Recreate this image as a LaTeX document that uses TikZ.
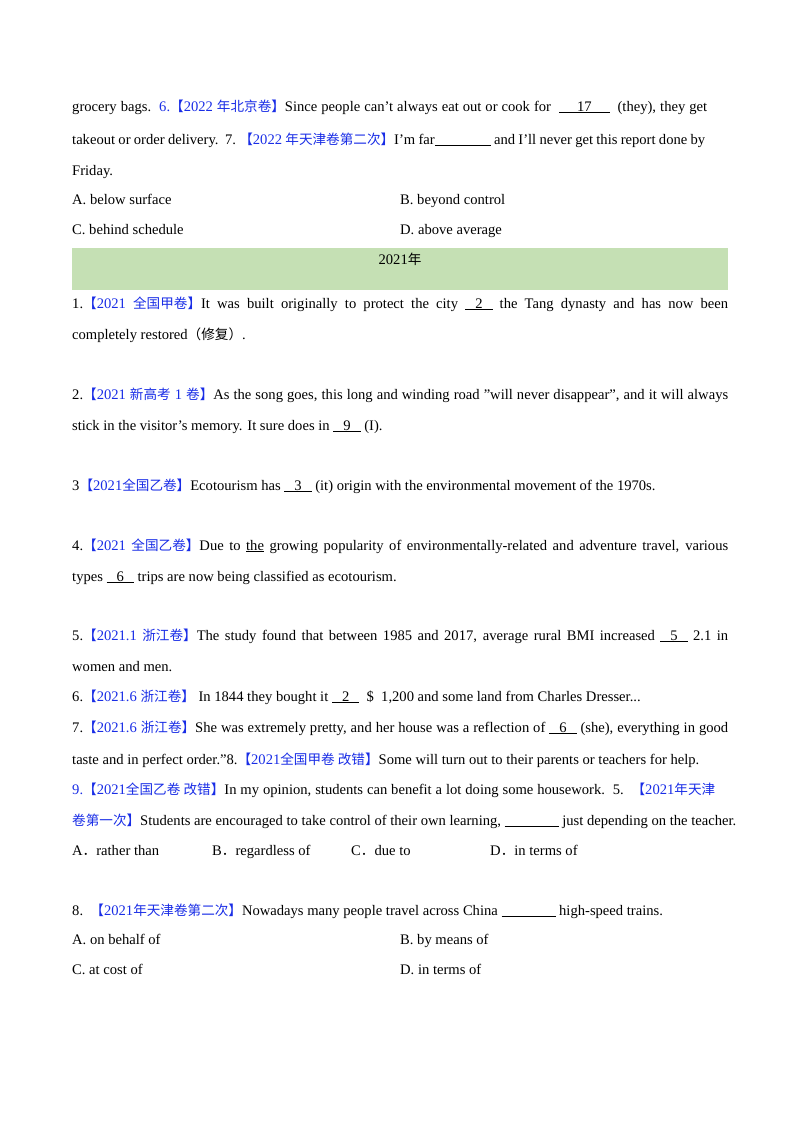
\documentclass[tikz,border=0pt]{standalone}
\usepackage{fontspec}
\setmainfont{Liberation Serif}
\newfontfamily\cjk{Noto Sans CJK SC}
\definecolor{blu}{RGB}{25,45,230}
\definecolor{band}{RGB}{197,224,180}
\newcommand\zh[1]{{\cjk\fontsize{13.6}{16}\selectfont #1}}
\newcommand\bl[1]{\textcolor{blu}{#1}}
\newcommand\blank[3]{\underline{\hspace{#1}#3\hspace{#2}}}
\newcommand\jus[1]{\makebox[656pt][s]{#1}}
\newcommand\q{\symbol{34}}
\begin{document}
\begin{tikzpicture}[x=1pt,y=-1pt,
  ln/.style={anchor=base west,inner sep=0pt,font=\fontsize{14.6}{17}\selectfont}]
\useasboundingbox (0,0) rectangle (800,1132);
\fill[band] (72,248) rectangle (728,290);
\node[ln] (y) at (400,264) [anchor=base] {2021\zh{年}};
\node[ln] (l1) at (72,111) {\makebox[635pt][s]{grocery bags.\ \ \bl{6.\zh{【}2022 \zh{年北京卷】}}Since people can’t always eat out or cook for \ \blank{18pt}{18pt}{17}\ \ (they), they get}};
\node[ln] (l2) at (72,144) {\makebox[633pt][s]{takeout or order delivery.\ \ 7.\ \bl{\zh{【}2022 \zh{年天津卷第二次】}}I’m far\blank{56pt}{0pt}{} and I’ll never get this report done by}};
\node[ln] (l3) at (72,175) {Friday.};
\node[ln] (a1) at (72,204) {A.\ below surface};
\node[ln] (b1) at (400,204) {B.\ beyond control};
\node[ln] (c1) at (72,234) {C.\ behind schedule};
\node[ln] (d1) at (400,234) {D.\ above average};
\node[ln] (q1) at (72,308) {\jus{1.\bl{\zh{【}2021 \zh{全国甲卷】}}It was built originally to protect the city \blank{10pt}{10pt}{2} the Tang dynasty and has now been}};
\node[ln] (q1b) at (72,339) {completely restored\zh{（修复）}.};
\node[ln] (q2) at (72,399) {\jus{2.\bl{\zh{【}2021 \zh{新高考} 1 \zh{卷】}}As the song goes, this long and winding road \q will never disappear\q, and it will always}};
\node[ln] (q2b) at (72,430) {stick in the visitor's memory. It sure does in \blank{10pt}{10pt}{9} (I).};
\node[ln] (q3) at (72,490) {3\bl{\zh{【}2021\zh{全国乙卷】}}Ecotourism has \blank{10pt}{10pt}{3} (it) origin with the environmental movement of the 1970s.};
\node[ln] (q4) at (72,550) {\jus{4.\bl{\zh{【}2021 \zh{全国乙卷】}}Due to \underline{the} growing popularity of environmentally-related and adventure travel, various}};
\node[ln] (q4b) at (72,581) {types \blank{10pt}{10pt}{6} trips are now being classified as ecotourism.};
\node[ln] (q5) at (72,640) {\jus{5.\bl{\zh{【}2021.1\ \zh{浙江卷】}}The study found that between 1985 and 2017, average rural BMI increased \blank{10pt}{10pt}{5} 2.1 in}};
\node[ln] (q5b) at (72,671) {women and men.};
\node[ln] (q6) at (72,701) {6.\bl{\zh{【}2021.6\ \zh{浙江卷】}}\ In 1844 they bought it \blank{10pt}{10pt}{2}\ \ \$\ \ 1,200 and some land from Charles Dresser...};
\node[ln] (q7) at (72,732) {\jus{7.\bl{\zh{【}2021.6\ \zh{浙江卷】}}She was extremely pretty, and her house was a reflection of \blank{10pt}{10pt}{6} (she), everything in good}};
\node[ln] (q7b) at (72,764) {taste and in perfect order.\q8.\bl{\zh{【}2021\zh{全国甲卷\ 改错】}}Some will turn out to their parents or teachers for help.};
\node[ln] (q9) at (72,794) {\makebox[643pt][s]{\bl{9.\zh{【}2021\zh{全国乙卷\ 改错】}}In my opinion, students can benefit a lot doing some housework.\ \ 5.\ \ \bl{\zh{【}2021\zh{年天津}}}};
\node[ln] (q9b) at (72,825) {\bl{\zh{卷第一次】}}Students are encouraged to take control of their own learning, \blank{54pt}{0pt}{} just depending on the teacher.};
\node[ln] (a2) at (72,855) {A\zh{．}rather than};
\node[ln] (b2) at (212,855) {B\zh{．}regardless of};
\node[ln] (c2) at (351,855) {C\zh{．}due to};
\node[ln] (d2) at (490,855) {D\zh{．}in terms of};
\node[ln] (q8) at (72,915) {8.\ \ \bl{\zh{【}2021\zh{年天津卷第二次】}}Nowadays many people travel across China \blank{54pt}{0pt}{} high-speed trains.};
\node[ln] (a3) at (72,944) {A. on behalf of};
\node[ln] (b3) at (400,944) {B. by means of};
\node[ln] (c3) at (72,974) {C. at cost of};
\node[ln] (d3) at (400,974) {D. in terms of};
\end{tikzpicture}
\end{document}
